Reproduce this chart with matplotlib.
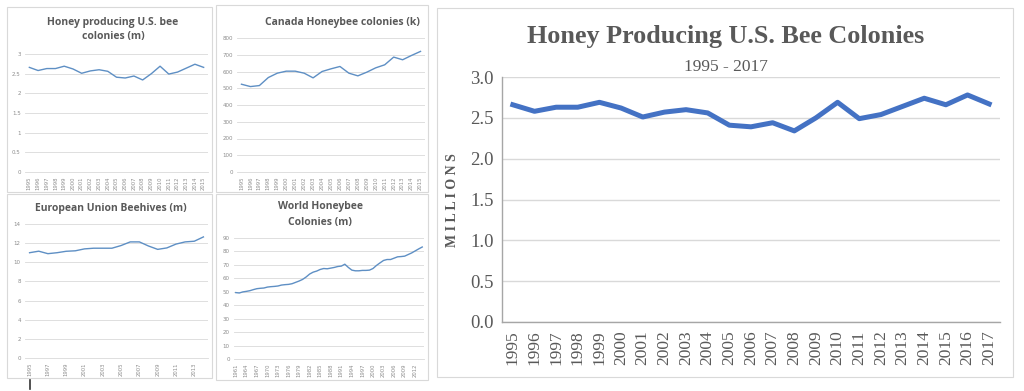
"""
plot.py
Bee colony dashboard: four small Excel-style panels plus one large US chart.
"""

import numpy as np
import matplotlib.pyplot as plt
from matplotlib.patches import Rectangle
from matplotlib.lines import Line2D

OUT_PATH = "out.png"
W, H = 1024, 391

# --- data -------------------------------------------------------------
us_years = list(range(1995, 2018))
us_colonies = [2.66, 2.58, 2.63, 2.63, 2.69, 2.62, 2.51, 2.57, 2.60, 2.56,
               2.41, 2.39, 2.44, 2.34, 2.50, 2.69, 2.49, 2.54, 2.64, 2.74,
               2.66, 2.78, 2.67]

canada_years = list(range(1995, 2016))
canada_colonies = [524, 510, 516, 564, 590, 602, 602, 590, 562, 600,
                   616, 630, 590, 574, 596, 622, 640, 686, 670, 696, 720]

eu_years = list(range(1995, 2015))
eu_hives = [11.0, 11.16, 10.9, 11.0, 11.15, 11.2, 11.4, 11.47, 11.47, 11.47,
            11.75, 12.13, 12.13, 11.7, 11.35, 11.5, 11.9, 12.13, 12.2, 12.65]

world_years = list(range(1961, 2015))
world_colonies = [49.4, 49.1, 49.9, 50.3, 50.8, 51.6, 52.3, 52.6, 52.8, 53.5,
                  53.8, 54.0, 54.3, 55.0, 55.3, 55.5, 56.0, 57.0, 58.0, 59.2,
                  61.0, 63.2, 64.6, 65.4, 66.6, 67.3, 67.1, 67.6, 68.1, 68.8,
                  69.1, 70.5, 68.1, 66.1, 65.6, 65.6, 65.9, 65.9, 66.1, 67.3,
                  69.6, 71.5, 73.3, 74.0, 74.0, 75.0, 76.0, 76.2, 76.5, 77.7,
                  78.9, 80.4, 81.9, 83.3]

GRID = "#d9d9d9"
TXT = "#595959"
SMALL_LINE = "#5e8fc4"
BIG_LINE = "#4472c4"

fig = plt.figure(figsize=(W / 100, H / 100), dpi=100)


def px_axes(l, t, r, b):
    return fig.add_axes([l / W, 1 - b / H, (r - l) / W, (b - t) / H])


def px_box(l, t, r, b):
    fig.add_artist(Rectangle((l / W, 1 - b / H), (r - l) / W, (b - t) / H,
                             transform=fig.transFigure, fill=False,
                             edgecolor=GRID, linewidth=0.8))


def small_chart(box, years, vals, ymax, ystep, tick_every, yfmt):
    ax = px_axes(*box)
    x = np.arange(len(years))
    ax.plot(x, vals, color=SMALL_LINE, linewidth=1.0)
    ax.set_xlim(-0.5, len(years) - 0.5)
    ax.set_ylim(0, ymax)
    yt = np.arange(0, ymax + ystep / 2, ystep)
    ax.set_yticks(yt)
    ax.set_yticklabels([yfmt(v) for v in yt], fontsize=4, color="#8c8c8c")
    ax.set_xticks(x[::tick_every])
    ax.set_xticklabels([str(y) for y in years[::tick_every]], rotation=90,
                       fontsize=3.8, color="#8c8c8c")
    ax.grid(axis="y", color=GRID, linewidth=0.6)
    ax.set_axisbelow(True)
    for s in ("top", "right", "left"):
        ax.spines[s].set_visible(False)
    ax.spines["bottom"].set_color(GRID)
    ax.spines["bottom"].set_linewidth(0.6)
    ax.tick_params(length=0, pad=3)
    return ax


def fmt_num(v):
    return f"{v:g}"


# panel frames
px_box(7, 7, 212, 192)
px_box(216, 5, 428, 192)
px_box(7, 194, 212, 378)
px_box(216, 194, 428, 380)
px_box(437, 8, 1013, 377)

title_kw = dict(fontsize=7.5, color=TXT, fontweight="bold", family="Open Sans",
                ha="center", va="center")

small_chart((25, 54, 208, 172), us_years[:21], us_colonies[:21], 3, 0.5, 1, fmt_num)
fig.text(113 / W, 1 - 22 / H, "Honey producing U.S. bee", **title_kw)
fig.text(113 / W, 1 - 37 / H, "colonies (m)", **title_kw)

small_chart((237, 38, 425, 172), canada_years, canada_colonies, 800, 100, 1, fmt_num)
fig.text(342 / W, 1 - 23 / H, "Canada Honeybee colonies (k)", **title_kw)

small_chart((25, 224, 208, 358), eu_years, eu_hives, 14, 2, 2, fmt_num)
fig.text(111 / W, 1 - 208 / H, "European Union Beehives (m)", **title_kw)

small_chart((234, 238, 424, 359), world_years, world_colonies, 90, 10, 3, fmt_num)
fig.text(320 / W, 1 - 207 / H, "World Honeybee", **title_kw)
fig.text(320 / W, 1 - 222 / H, "Colonies (m)", **title_kw)

# small cursor mark under the EU panel
fig.add_artist(Line2D([30 / W, 30 / W], [1 - 380 / H, 1 - 389 / H],
                      transform=fig.transFigure, color="#333333", linewidth=1.2))

# --- large chart ------------------------------------------------------
serif = ["Liberation Serif", "DejaVu Serif"]
ax = px_axes(502, 77, 1000, 322)
x = np.arange(len(us_years))
ax.plot(x, us_colonies, color=BIG_LINE, linewidth=3.6, solid_joinstyle="round")
ax.set_xlim(-0.5, len(us_years) - 0.5)
ax.set_ylim(0, 3.0)
yt = np.arange(0, 3.01, 0.5)
ax.set_yticks(yt)
ax.set_yticklabels([f"{v:.1f}" for v in yt], fontsize=13.5, color=TXT, family=serif)
ax.set_xticks(x)
ax.set_xticklabels([str(y) for y in us_years], rotation=90, fontsize=12.5,
                   color=TXT, family=serif)
ax.grid(axis="y", color=GRID, linewidth=1.0)
ax.set_axisbelow(True)
for s in ("top", "right"):
    ax.spines[s].set_visible(False)
for s in ("left", "bottom"):
    ax.spines[s].set_color("#a6a6a6")
    ax.spines[s].set_linewidth(1.0)
ax.tick_params(length=0, pad=6)

fig.text(452 / W, 1 - 200 / H, "M I L L I O N S", rotation=90, fontsize=10,
         fontweight="bold", color=TXT, family=serif, ha="center", va="center")
fig.text(726 / W, 1 - 37 / H, "Honey Producing U.S. Bee Colonies", fontsize=18.8,
         fontweight="bold", color=TXT, family=serif, ha="center", va="center")
fig.text(726 / W, 1 - 67 / H, "1995 - 2017", fontsize=12.5, color=TXT,
         family=serif, ha="center", va="center")

fig.savefig(OUT_PATH, dpi=100)
print(f"Saved {OUT_PATH}")
